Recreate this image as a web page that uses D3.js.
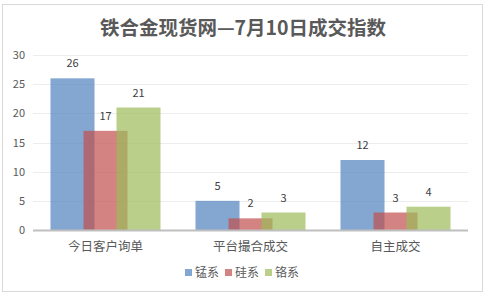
<!DOCTYPE html>
<html>
<head>
<meta charset="utf-8">
<script src="https://cdn.jsdelivr.net/npm/d3@7"></script>
<style>
  body { margin: 0; background: #fff; }
  text { font-family: "Noto Sans CJK SC", "DejaVu Sans", sans-serif; }
</style>
</head>
<body>
<svg id="chart" width="486" height="297"></svg>
<script>
// data
const title = "铁合金现货网—7月10日成交指数";
const categories = ["今日客户询单", "平台撮合成交", "自主成交"];
const seriesNames = ["锰系", "硅系", "铬系"];
const mnValues = [26, 5, 12];
const siValues = [17, 2, 3];
const crValues = [21, 3, 4];
const yTicks = [0, 5, 10, 15, 20, 25, 30];

const colors = ["#4F81BD", "#C0504D", "#9BBB59"];
const seriesValues = [mnValues, siValues, crValues];

const svg = d3.select("#chart");

// outer frame
svg.append("rect")
    .attr("x", 2.5).attr("y", 4.5)
    .attr("width", 480).attr("height", 287)
    .attr("fill", "#fff")
    .attr("stroke", "#D9D9D9");

svg.append("text")
    .attr("x", 243).attr("y", 35)
    .attr("text-anchor", "middle")
    .attr("font-size", 19.5)
    .attr("font-weight", "bold")
    .attr("fill", "#595959")
    .text(title);

const x = d3.scaleBand().domain(categories).range([33, 468]);
const y = d3.scaleLinear().domain([0, 30]).range([230, 55]);

// grid lines
svg.append("g")
    .selectAll("line")
    .data(yTicks.filter(t => t > 0))
    .join("line")
    .attr("x1", 33).attr("x2", 468)
    .attr("y1", d => Math.round(y(d)) + 0.5)
    .attr("y2", d => Math.round(y(d)) + 0.5)
    .attr("stroke", "#EDEDED");

// y labels
svg.append("g")
    .selectAll("text")
    .data(yTicks)
    .join("text")
    .attr("x", 25)
    .attr("y", d => y(d) + 4)
    .attr("text-anchor", "end")
    .attr("font-size", 11)
    .attr("fill", "#595959")
    .text(d => d);

const barW = x.bandwidth() * 44 / 145;
const step = barW * 0.75;
const groupW = barW + step * 2;
const barX = (c, i) => x(c) + (x.bandwidth() - groupW) / 2 + i * step;

const bars = [];
seriesValues.forEach((vals, i) => {
    categories.forEach((c, j) => bars.push({ s: i, cat: c, v: vals[j] }));
});

svg.append("g")
    .selectAll("rect")
    .data(bars)
    .join("rect")
    .attr("x", d => barX(d.cat, d.s))
    .attr("y", d => y(d.v))
    .attr("width", barW)
    .attr("height", d => y(0) - y(d.v))
    .attr("fill", d => colors[d.s])
    .attr("fill-opacity", 0.7);

// data labels
svg.append("g")
    .selectAll("text")
    .data(bars)
    .join("text")
    .attr("x", d => barX(d.cat, d.s) + barW / 2)
    .attr("y", d => y(d.v) - 11)
    .attr("text-anchor", "middle")
    .attr("font-size", 11)
    .attr("fill", "#404040")
    .text(d => d.v);

// baseline
svg.append("line")
    .attr("x1", 33).attr("x2", 468)
    .attr("y1", y(0) + 0.5).attr("y2", y(0) + 0.5)
    .attr("stroke", "#BFBFBF")
    .attr("stroke-width", 2);

// category labels
svg.append("g")
    .selectAll("text")
    .data(categories)
    .join("text")
    .attr("x", d => x(d) + x.bandwidth() / 2)
    .attr("y", 251)
    .attr("text-anchor", "middle")
    .attr("font-size", 12.5)
    .attr("fill", "#595959")
    .text(d => d);

// legend
const legend = svg.append("g").attr("transform", "translate(185,267)");
const items = legend.selectAll("g")
    .data(seriesNames)
    .join("g")
    .attr("transform", (d, i) => `translate(${i * 40},0)`);
items.append("rect")
    .attr("x", 0).attr("y", 2)
    .attr("width", 7).attr("height", 7)
    .attr("fill", (d, i) => colors[i])
    .attr("fill-opacity", 0.7);
items.append("text")
    .attr("x", 10).attr("y", 10)
    .attr("font-size", 12)
    .attr("fill", "#595959")
    .text(d => d);
</script>
</body>
</html>
